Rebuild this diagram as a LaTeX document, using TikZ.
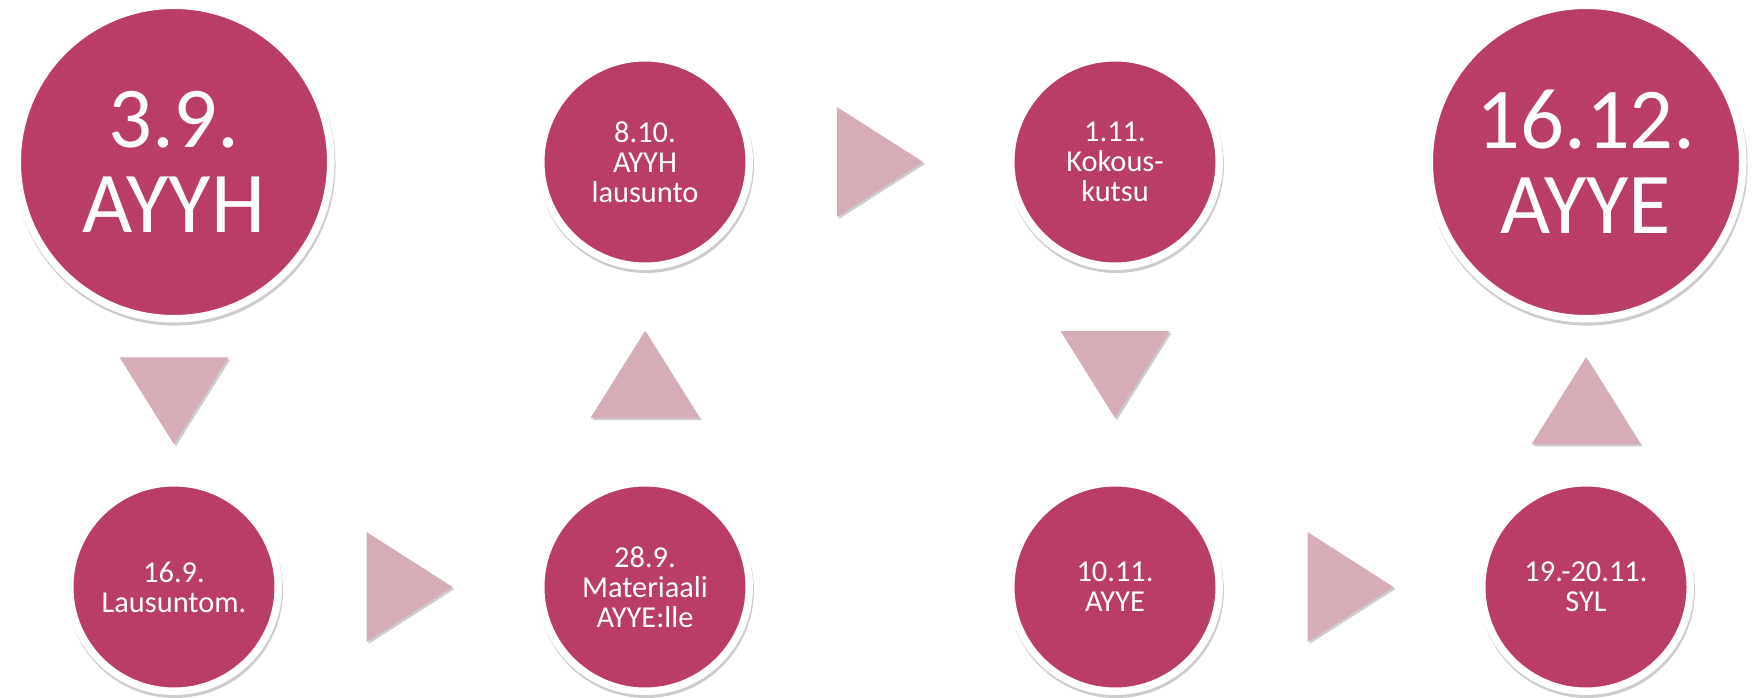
\documentclass[tikz,border=0pt]{standalone}
\usepackage{fontspec}
\setmainfont{Carlito}
\usetikzlibrary{calc,shadows}
\definecolor{raspberry}{HTML}{BA3D68}
\definecolor{palerose}{HTML}{D6ADB7}

\begin{document}
\begin{tikzpicture}[x=1bp,y=-1bp,
	datebox/.style={circle,fill=raspberry,draw=white,line width=7.5bp,text=white,align=center,inner sep=0pt},
	smalldate/.style={datebox,minimum size=208.5bp,font=\fontsize{30.5}{30}\selectfont,
			drop shadow={shadow xshift=1bp,shadow yshift=-3bp,shadow scale=1.035,opacity=0.2,fill=black}},
	bigdate/.style={datebox,minimum size=313.5bp,font=\fontsize{87}{85}\selectfont,
			drop shadow={shadow xshift=1bp,shadow yshift=-3bp,shadow scale=1.024,opacity=0.2,fill=black}},
	tri/.style={fill=palerose,drop shadow={shadow xshift=2bp,shadow yshift=-2bp,opacity=0.2,fill=black}}
	]
	\useasboundingbox (0,0) rectangle (1761,698);

	\node[bigdate] (n1) at (174,162) {3.9.\\AYYH};
	\node[smalldate] (n2) at (174,587) {16.9.\\Lausuntom.};
	\node[smalldate] (n3) at (645,587) {28.9.\\Materiaali\\AYYE:lle};
	\node[smalldate] (n4) at (645,162) {8.10.\\AYYH\\lausunto};
	\node[smalldate] (n5) at (1115,162) {1.11.\\Kokous-\\kutsu};
	\node[smalldate] (n6) at (1115,587) {10.11.\\AYYE};
	\node[smalldate] (n7) at (1586,587) {19.-20.11.\\SYL};
	\node[bigdate] (n8) at (1586,162) {16.12.\\AYYE};

	% down
	\coordinate (t1) at ($(n1.south)!0.5!(n2.north)$);
	\fill[tri] ($(t1)+(-54.5,-43.5)$) -- ++(109,0) -- ++(-54.5,87) -- cycle;
	% right
	\coordinate (t2) at ($(n2.east)!0.5!(n3.west)$);
	\fill[tri] ($(t2)+(-43,-55)$) -- ++(86,55) -- ++(-86,55) -- cycle;
	% up
	\coordinate (t3) at ($(n3.north)!0.5!(n4.south)$);
	\fill[tri] ($(t3)+(-54.5,43.5)$) -- ++(109,0) -- ++(-54.5,-87) -- cycle;
	% right
	\coordinate (t4) at ($(n4.east)!0.5!(n5.west)$);
	\fill[tri] ($(t4)+(-43,-55)$) -- ++(86,55) -- ++(-86,55) -- cycle;
	% down
	\coordinate (t5) at ($(n5.south)!0.5!(n6.north)$);
	\fill[tri] ($(t5)+(-54.5,-43.5)$) -- ++(109,0) -- ++(-54.5,87) -- cycle;
	% right
	\coordinate (t6) at ($(n6.east)!0.5!(n7.west)$);
	\fill[tri] ($(t6)+(-43,-55)$) -- ++(86,55) -- ++(-86,55) -- cycle;
	% up
	\coordinate (t7) at ($(n7.north)!0.5!(n8.south)$);
	\fill[tri] ($(t7)+(-54.5,43.5)$) -- ++(109,0) -- ++(-54.5,-87) -- cycle;
\end{tikzpicture}
\end{document}
